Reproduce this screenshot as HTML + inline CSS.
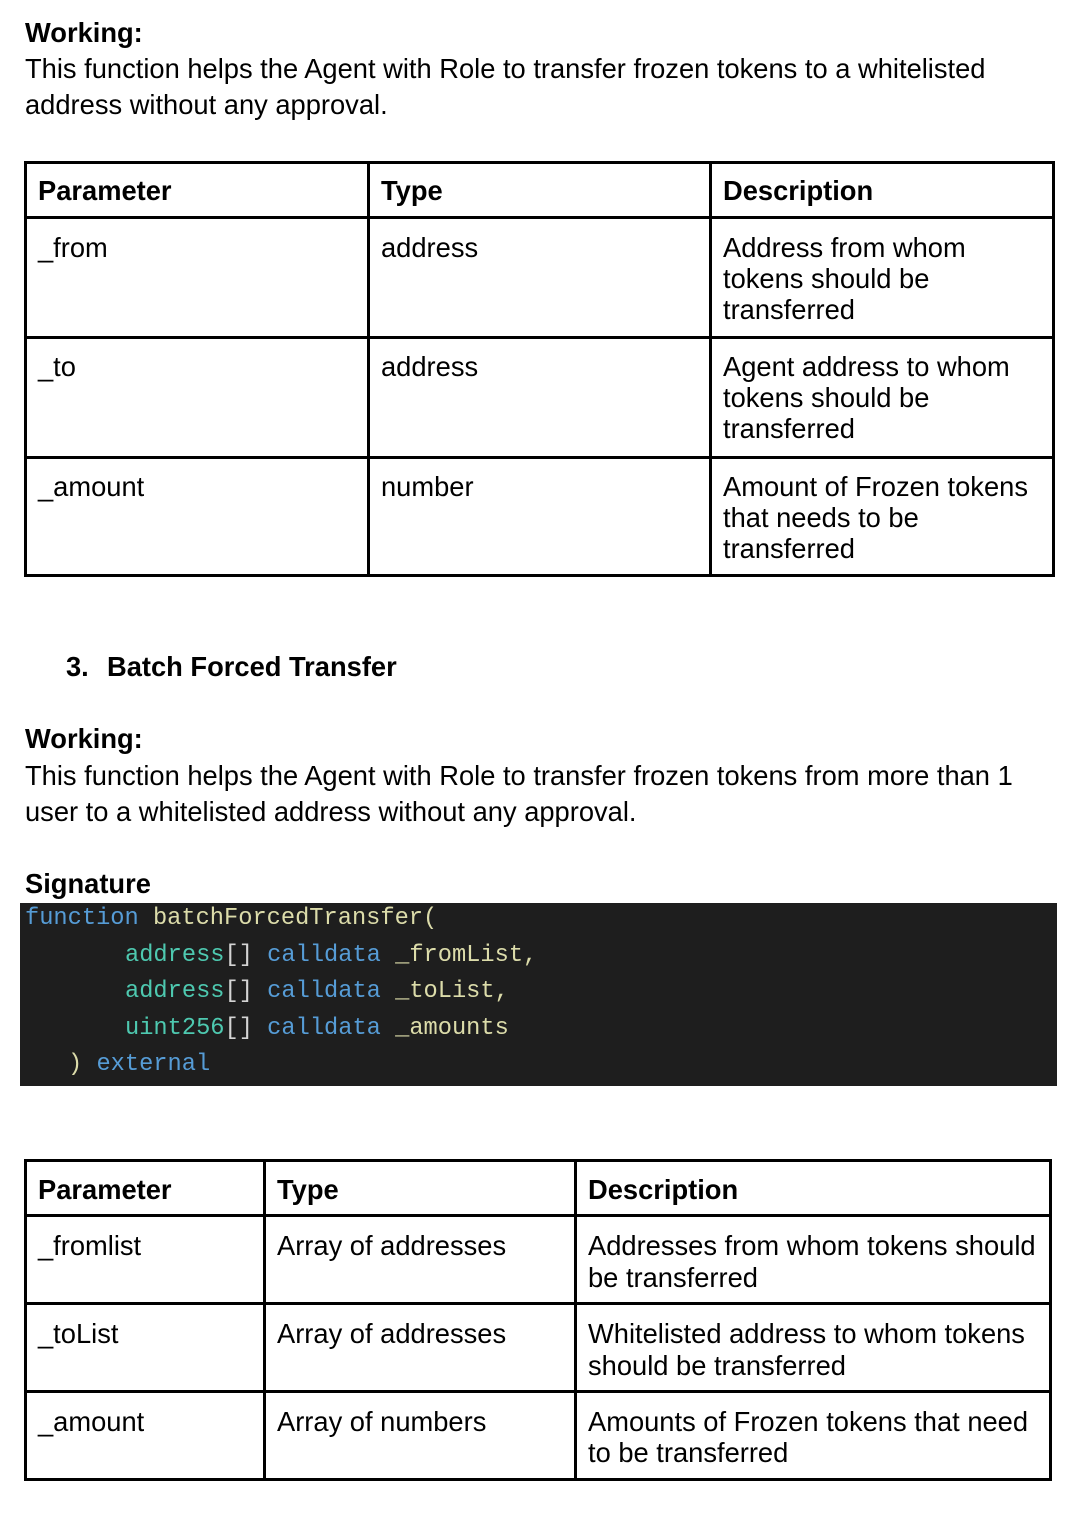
<!DOCTYPE html>
<html><head><meta charset="utf-8"><style>
body{margin:0;width:1078px;height:1514px;background:#fff;position:relative;overflow:hidden;font-family:"Liberation Sans",Arial,sans-serif;color:#000}
.t{position:absolute;font-size:27.3px;line-height:32px;white-space:nowrap}
.b{font-weight:bold}
.h{position:absolute;background:#000;height:3px}
.v{position:absolute;background:#000;width:3px}
.code{position:absolute;left:20px;top:903px;width:1037px;height:183px;background:#1e1e1e}
.c{position:absolute;font-family:"Liberation Mono","Courier New",monospace;font-size:23.7px;line-height:30px;white-space:pre;color:#d4d4d4}
.k{color:#569cd6}.y{color:#dcdcaa}.g{color:#4ec9b0}
</style></head><body>
<div class="t b" style="left:25px;top:17px">Working:</div>
<div class="t" style="left:25px;top:53px">This function helps the Agent with Role to transfer frozen tokens to a whitelisted</div>
<div class="t" style="left:25px;top:89px">address without any approval.</div>

<div class="h" style="left:24px;top:161px;width:1031px"></div>
<div class="h" style="left:24px;top:216px;width:1031px"></div>
<div class="h" style="left:24px;top:336px;width:1031px"></div>
<div class="h" style="left:24px;top:456px;width:1031px"></div>
<div class="h" style="left:24px;top:574px;width:1031px"></div>
<div class="v" style="left:24px;top:161px;height:416px"></div>
<div class="v" style="left:367px;top:161px;height:416px"></div>
<div class="v" style="left:709px;top:161px;height:416px"></div>
<div class="v" style="left:1052px;top:161px;height:416px"></div>
<div class="t b" style="left:38px;top:175px">Parameter</div>
<div class="t b" style="left:381px;top:175px">Type</div>
<div class="t b" style="left:723px;top:175px">Description</div>
<div class="t" style="left:38px;top:232px">_from</div>
<div class="t" style="left:381px;top:232px">address</div>
<div class="t" style="left:723px;top:232px">Address from whom</div>
<div class="t" style="left:723px;top:263px">tokens should be</div>
<div class="t" style="left:723px;top:294px">transferred</div>
<div class="t" style="left:38px;top:351px">_to</div>
<div class="t" style="left:381px;top:351px">address</div>
<div class="t" style="left:723px;top:351px">Agent address to whom</div>
<div class="t" style="left:723px;top:382px">tokens should be</div>
<div class="t" style="left:723px;top:413px">transferred</div>
<div class="t" style="left:38px;top:471px">_amount</div>
<div class="t" style="left:381px;top:471px">number</div>
<div class="t" style="left:723px;top:471px">Amount of Frozen tokens</div>
<div class="t" style="left:723px;top:502px">that needs to be</div>
<div class="t" style="left:723px;top:533px">transferred</div>

<div class="t b" style="left:66px;top:651px">3.</div>
<div class="t b" style="left:107px;top:651px">Batch Forced Transfer</div>
<div class="t b" style="left:25px;top:723px">Working:</div>
<div class="t" style="left:25px;top:760px">This function helps the Agent with Role to transfer frozen tokens from more than 1</div>
<div class="t" style="left:25px;top:796px">user to a whitelisted address without any approval.</div>
<div class="t b" style="left:25px;top:868px">Signature</div>

<div class="code"></div>
<div class="c" style="left:25px;top:904px"><span class="k">function</span> <span class="y">batchForcedTransfer(</span></div>
<div class="c" style="left:125px;top:941px"><span class="g">address</span>[] <span class="k">calldata</span> <span class="y">_fromList,</span></div>
<div class="c" style="left:125px;top:977px"><span class="g">address</span>[] <span class="k">calldata</span> <span class="y">_toList,</span></div>
<div class="c" style="left:125px;top:1014px"><span class="g">uint256</span>[] <span class="k">calldata</span> <span class="y">_amounts</span></div>
<div class="c" style="left:68px;top:1050px"><span class="y">)</span> <span class="k">external</span></div>

<div class="h" style="left:24px;top:1159px;width:1028px"></div>
<div class="h" style="left:24px;top:1214px;width:1028px"></div>
<div class="h" style="left:24px;top:1302px;width:1028px"></div>
<div class="h" style="left:24px;top:1390px;width:1028px"></div>
<div class="h" style="left:24px;top:1478px;width:1028px"></div>
<div class="v" style="left:24px;top:1159px;height:322px"></div>
<div class="v" style="left:263px;top:1159px;height:322px"></div>
<div class="v" style="left:574px;top:1159px;height:322px"></div>
<div class="v" style="left:1049px;top:1159px;height:322px"></div>
<div class="t b" style="left:38px;top:1174px">Parameter</div>
<div class="t b" style="left:277px;top:1174px">Type</div>
<div class="t b" style="left:588px;top:1174px">Description</div>
<div class="t" style="left:38px;top:1230px">_fromlist</div>
<div class="t" style="left:277px;top:1230px">Array of addresses</div>
<div class="t" style="left:588px;top:1230px">Addresses from whom tokens should</div>
<div class="t" style="left:588px;top:1262px">be transferred</div>
<div class="t" style="left:38px;top:1318px">_toList</div>
<div class="t" style="left:277px;top:1318px">Array of addresses</div>
<div class="t" style="left:588px;top:1318px">Whitelisted address to whom tokens</div>
<div class="t" style="left:588px;top:1350px">should be transferred</div>
<div class="t" style="left:38px;top:1406px">_amount</div>
<div class="t" style="left:277px;top:1406px">Array of numbers</div>
<div class="t" style="left:588px;top:1406px">Amounts of Frozen tokens that need</div>
<div class="t" style="left:588px;top:1437px">to be transferred</div>
</body></html>
